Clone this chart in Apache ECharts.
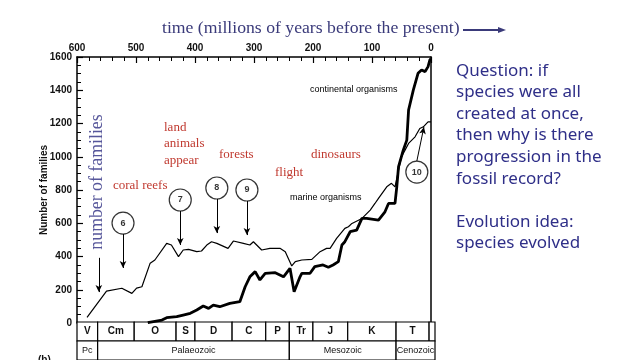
<!DOCTYPE html>
<html>
<head>
<meta charset="utf-8">
<script src="https://cdn.jsdelivr.net/npm/echarts@6/dist/echarts.min.js"></script>
<style>html,body{margin:0;padding:0;background:#fff;}#c{width:640px;height:360px;}</style>
</head>
<body>
<div id="c"></div>
<script>
// ---- data (ages in millions of years before present, number of families) ----
var marineAge = [583, 550, 524, 507, 499, 490, 476, 468, 448, 440, 428, 420, 411, 397, 389, 380, 372, 363, 344, 335, 318, 307, 301, 287, 273, 256, 247, 236, 230, 219, 202, 188, 177, 171, 160, 146, 140, 134, 117, 103, 95, 89, 75, 67, 61, 55, 50, 44, 38, 27, 19, 13, 5, 0];
var marineFam = [34, 192, 209, 178, 210, 218, 360, 379, 479, 469, 399, 439, 443, 429, 433, 469, 489, 479, 449, 493, 479, 469, 489, 439, 449, 449, 429, 343, 369, 379, 383, 429, 449, 449, 509, 569, 579, 599, 629, 679, 719, 750, 819, 840, 819, 920, 1000, 1040, 1080, 1120, 1170, 1180, 1210, 1210];
var contAge = [480, 456, 448, 431, 420, 408, 397, 386, 377, 369, 358, 341, 324, 315, 307, 298, 290, 281, 264, 250, 239, 232, 222, 219, 205, 197, 183, 174, 166, 157, 151, 146, 137, 126, 117, 109, 89, 78, 72, 61, 58, 55, 47, 41, 38, 30, 22, 16, 10, 5, 2, 0];
var contFam = [2, 18, 32, 38, 48, 58, 78, 102, 88, 108, 98, 118, 128, 218, 278, 309, 259, 299, 303, 278, 329, 188, 278, 299, 299, 339, 349, 335, 349, 369, 469, 489, 549, 559, 629, 629, 619, 669, 719, 719, 819, 940, 1040, 1100, 1281, 1401, 1502, 1522, 1512, 1542, 1582, 1590];

var xTicks = [600, 500, 400, 300, 200, 100, 0];
var yTicks = [0, 200, 400, 600, 800, 1000, 1200, 1400, 1600];

// numbered event circles
var circleAge = [522, 425, 363, 312, 24];
var circleFam = [601, 740, 812, 800, 908];
var circleLabel = ['6', '7', '8', '9', '10'];
// arrows [fromAge, fromFam] -> [toAge, toFam]
var arrowFromAge = [522, 425, 363, 312, 24, 563];
var arrowFromFam = [535, 674, 746, 734, 974, 392];
var arrowToAge = [522, 425, 363, 312, 12, 563];
var arrowToFam = [331, 469, 541, 529, 1179, 186];

// geological periods (row 1) and eras (row 0)
var periodName = ['V', 'Cm', 'O', 'S', 'D', 'C', 'P', 'Tr', 'J', 'K', 'T', ''];
var periodStart = [600, 565, 503, 432, 400, 337, 280, 240, 200, 141, 59, 3];
var periodEnd = [565, 503, 432, 400, 337, 280, 240, 200, 141, 59, 3, -7];
var eraName = ['Pc', 'Palaeozoic', 'Mesozoic', 'Cenozoic'];
var eraStart = [600, 565, 240, 59];
var eraEnd = [565, 240, 59, -7];

function pairs(a, b) { return a.map(function (v, i) { return [v, b[i]]; }); }

var tableData = [];
periodName.forEach(function (n, i) { tableData.push([periodStart[i], periodEnd[i], 1, n]); });
eraName.forEach(function (n, i) { tableData.push([eraStart[i], eraEnd[i], 0, n]); });

var arrows = arrowFromAge.map(function (a, i) {
  return [{ coord: [a, arrowFromFam[i]] }, { coord: [arrowToAge[i], arrowToFam[i]] }];
});

var chart = echarts.init(document.getElementById('c'), null, { renderer: 'canvas' });
var sans = 'Liberation Sans';
var serif = 'Liberation Serif';
var red = '#c0392f';

chart.setOption({
  animation: false,
  backgroundColor: '#fff',
  grid: [
    { left: 77, top: 57, width: 354, height: 266 },
    { left: 77, top: 322, width: 358, height: 42 }
  ],
  xAxis: [
    {
      type: 'value', gridIndex: 0, min: 0, max: 600, interval: 100, inverse: true, position: 'top',
      axisLine: { show: true, onZero: false, lineStyle: { color: '#000', width: 1.5 } },
      axisTick: { show: true, inside: true, length: 6, lineStyle: { color: '#000', width: 1.2 } },
      minorTick: { show: true, splitNumber: 5, length: 4, lineStyle: { color: '#000', width: 1 } },
      axisLabel: { fontFamily: sans, fontSize: 10, fontWeight: 'bold', color: '#111', margin: 4,
        formatter: function (v) { return xTicks.indexOf(v) >= 0 ? String(v) : ''; } },
      splitLine: { show: false }
    },
    { type: 'value', gridIndex: 1, min: -7, max: 600, inverse: true, show: false }
  ],
  yAxis: [
    {
      type: 'value', gridIndex: 0, min: 0, max: 1600, interval: 200, position: 'left',
      name: 'Number of families', nameLocation: 'middle', nameGap: 28, nameMoveOverlap: false,
      nameTextStyle: { fontFamily: sans, fontSize: 10, fontWeight: 'bold', color: '#111' },
      axisLine: { show: true, onZero: false, lineStyle: { color: '#000', width: 1.5 } },
      axisTick: { show: true, inside: true, length: 6, lineStyle: { color: '#000', width: 1.2 } },
      minorTick: { show: true, splitNumber: 4, length: 4, lineStyle: { color: '#000', width: 1 } },
      axisLabel: { fontFamily: sans, fontSize: 10, fontWeight: 'bold', color: '#111', margin: 5,
        formatter: function (v) { return yTicks.indexOf(v) >= 0 ? String(v) : ''; } },
      splitLine: { show: false }
    },
    { type: 'value', gridIndex: 1, min: 0, max: 2, show: false },
    {
      type: 'value', gridIndex: 0, min: 0, max: 1600, position: 'right',
      axisLine: { show: true, onZero: false, lineStyle: { color: '#000', width: 1.5 } },
      axisTick: { show: false }, minorTick: { show: false }, axisLabel: { show: false }, splitLine: { show: false }
    }
  ],
  series: [
    {
      name: 'marine organisms', type: 'line', xAxisIndex: 0, yAxisIndex: 0, data: pairs(marineAge, marineFam),
      showSymbol: false, symbol: 'none', lineStyle: { color: '#000', width: 1.2 }, z: 3
    },
    {
      name: 'continental organisms', type: 'line', xAxisIndex: 0, yAxisIndex: 0, data: pairs(contAge, contFam),
      showSymbol: false, symbol: 'none', lineStyle: { color: '#000', width: 2.8 }, z: 3
    },
    {
      name: 'events', type: 'scatter', xAxisIndex: 0, yAxisIndex: 0,
      data: circleAge.map(function (a, i) { return [a, circleFam[i], circleLabel[i]]; }),
      symbol: 'circle', symbolSize: 22,
      itemStyle: { color: '#fff', borderColor: '#000', borderWidth: 1.2 },
      label: { show: true, position: 'inside', formatter: function (p) { return p.data[2]; },
        fontFamily: sans, fontSize: 9, fontWeight: 'bold', color: '#000' },
      markLine: {
        silent: true, symbol: ['none', 'arrow'], symbolSize: [5, 7],
        lineStyle: { color: '#000', width: 1, type: 'solid' },
        label: { show: false }, data: arrows
      },
      z: 4
    },
    {
      name: 'table', type: 'custom', xAxisIndex: 1, yAxisIndex: 1, data: tableData,
      renderItem: function (params, api) {
        var p1 = api.coord([api.value(0), api.value(2) + 1]);
        var p2 = api.coord([api.value(1), api.value(2)]);
        var row = api.value(2);
        return {
          type: 'rect',
          shape: { x: p1[0], y: p1[1], width: p2[0] - p1[0], height: p2[1] - p1[1] },
          style: { fill: '#fff', stroke: '#000', lineWidth: 1.2 },
          textContent: { style: { text: tableData[params.dataIndex][3], fontFamily: sans,
            fontSize: row === 1 ? 10 : 9, fontWeight: row === 1 ? 'bold' : 'normal', fill: '#111' } },
          textConfig: { position: 'inside' }
        };
      },
      encode: { x: [0, 1], y: 2 }
    }
  ],
  graphic: [
    { type: 'text', left: 162, top: 19, style: { text: 'time (millions of years before the present)', fontFamily: serif, fontSize: 17.7, fill: '#3a3a7a' } },
    { type: 'line', shape: { x1: 463, y1: 30, x2: 500, y2: 30 }, style: { stroke: '#3a3a7a', lineWidth: 2 } },
    { type: 'polygon', shape: { points: [[498, 27], [506, 30], [498, 33]] }, style: { fill: '#3a3a7a' } },
    { type: 'text', x: 97, y: 182, rotation: Math.PI / 2, style: { text: 'number of families', fontFamily: serif, fontSize: 17.8, fill: '#56569a', align: 'center', verticalAlign: 'middle' } },
    { type: 'text', x: 113, y: 186, style: { text: 'coral reefs', fontFamily: serif, fontSize: 13, fill: red, verticalAlign: 'middle' } },
    { type: 'text', x: 164, y: 119, style: { text: 'land\nanimals\nappear', fontFamily: serif, fontSize: 13, lineHeight: 16.5, fill: red } },
    { type: 'text', x: 219, y: 155, style: { text: 'forests', fontFamily: serif, fontSize: 13, fill: red, verticalAlign: 'middle' } },
    { type: 'text', x: 275, y: 173, style: { text: 'flight', fontFamily: serif, fontSize: 13, fill: red, verticalAlign: 'middle' } },
    { type: 'text', x: 311, y: 155, style: { text: 'dinosaurs', fontFamily: serif, fontSize: 13, fill: red, verticalAlign: 'middle' } },
    { type: 'text', x: 310, y: 90, style: { text: 'continental organisms', fontFamily: sans, fontSize: 9, fill: '#000', verticalAlign: 'middle' } },
    { type: 'text', x: 290, y: 198, style: { text: 'marine organisms', fontFamily: sans, fontSize: 9, fill: '#000', verticalAlign: 'middle' } },
    { type: 'text', x: 38, y: 355, style: { text: '(b)', fontFamily: sans, fontSize: 10, fontWeight: 'bold', fill: '#111' } },
    { type: 'text', x: 456, y: 60, style: { text: 'Question: if\nspecies were all\ncreated at once,\nthen why is there\nprogression in the\nfossil record?\n\nEvolution idea:\nspecies evolved', fontFamily: 'Noto Sans', fontSize: 17, lineHeight: 21.6, fill: '#2f2f88' } }
  ]
});
</script>
</body>
</html>
